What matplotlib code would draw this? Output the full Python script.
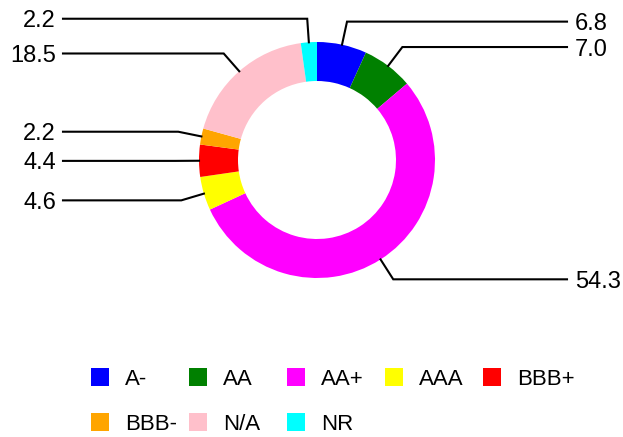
import numpy as np
import matplotlib
matplotlib.use("Agg")
import matplotlib.pyplot as plt
from matplotlib.patches import Rectangle

# Rating breakdown (percent of holdings)
ratings = ["A-", "AA", "AA+", "AAA", "BBB+", "BBB-", "N/A", "NR"]
shares = [6.8, 7.0, 54.3, 4.6, 4.4, 2.2, 18.5, 2.2]
colors = ["blue", "green", "magenta", "yellow", "red", "orange", "pink", "cyan"]

plt.rcParams["font.family"] = ["Liberation Sans", "DejaVu Sans"]

W, H = 623, 437
fig = plt.figure(figsize=(W / 100, H / 100), dpi=100)
ax = fig.add_axes([0, 0, 1, 1])

# donut geometry in pixel-like units
cx, cy = 317, H - 160
radius = 118
ring = 39

ax.pie(shares, colors=colors, startangle=90, counterclock=False,
       center=(cx, cy), radius=radius,
       wedgeprops=dict(width=ring, linewidth=0))

# leader lines: radial stub out to 1.2*r, then horizontal to the margin
bounds = np.cumsum([0] + shares) / sum(shares)
mids = (bounds[:-1] + bounds[1:]) / 2
for val, m in zip(shares, mids):
    ang = np.pi / 2 - 2 * np.pi * m
    dx, dy = np.cos(ang), np.sin(ang)
    x0, y0 = cx + radius * dx, cy + radius * dy
    x1, y1 = cx + 1.2 * radius * dx, cy + 1.2 * radius * dy
    if dx >= 0:
        x2, tx, ha = 567, 575, "left"
    else:
        x2, tx, ha = 63, 56, "right"
    ax.plot([x0, x1, x2], [y0, y1, y1], color="black", lw=1.5,
            solid_joinstyle="miter")
    ax.text(tx, y1, f"{val:.1f}", ha=ha, va="center_baseline", fontsize=17)

# legend laid out on a fixed grid, five per row
for i, (name, col) in enumerate(zip(ratings, colors)):
    c, r = i % 5, i // 5
    lx = 91 + c * 98
    ly = H - 377 - r * 45
    ax.add_patch(Rectangle((lx, ly - 9), 18, 18, facecolor=col, edgecolor="none"))
    ax.text(lx + 34, ly, name, ha="left", va="center_baseline", fontsize=16)

ax.set_xlim(0, W)
ax.set_ylim(0, H)
ax.set_aspect("equal")
ax.axis("off")

fig.savefig("out.png", dpi=100)
